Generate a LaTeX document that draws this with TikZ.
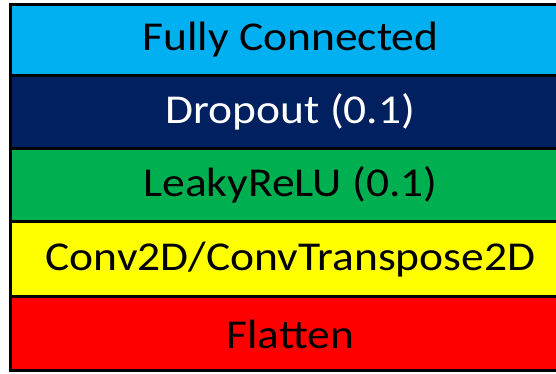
\documentclass[tikz,border=0pt]{standalone}
\usepackage{fontspec}
\setmainfont[FakeStretch=1.11]{Carlito}
\definecolor{fcblue}{HTML}{00B0F0}
\definecolor{navy}{HTML}{002060}
\definecolor{lgreen}{HTML}{00B050}
\definecolor{yel}{HTML}{FFFF00}
\definecolor{rd}{HTML}{FF0000}
\begin{document}
\begin{tikzpicture}[x=1pt,y=1pt,
  layerbox/.style={draw=black, line width=3pt, minimum width=560pt, inner sep=0pt, outer sep=0pt, font=\fontsize{41}{44}\selectfont, anchor=center}]
\useasboundingbox (0,0) rectangle (556,374);
\fill[white] (0,0) rectangle (556,374);
\begin{scope}
\clip (0,0) rectangle (556,374);
\node (fc)   [layerbox, fill=fcblue, minimum height=71pt] at (290.5,374-40.0) {Fully Connected};
\node (drop) [layerbox, fill=navy, text=white, minimum height=73pt] at (290.5,374-112.0) {Dropout (0.1)};
\node (relu) [layerbox, fill=lgreen, minimum height=73.5pt] at (290.5,374-185.25) {LeakyReLU (0.1)};
\node (conv) [layerbox, fill=yel, minimum height=75pt] at (290.5,374-259.5) {Conv2D/ConvTranspose2D};
\node (flat) [layerbox, fill=rd, minimum height=74pt] at (290.5,374-334.0) {Flatten};
\end{scope}
\end{tikzpicture}
\end{document}
